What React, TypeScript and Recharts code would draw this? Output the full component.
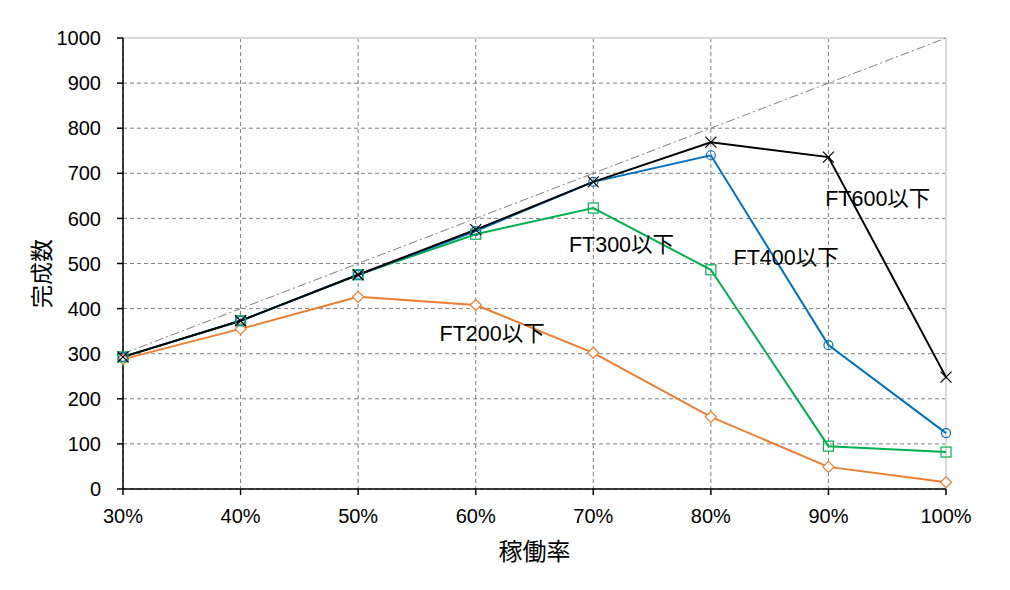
import React from 'react';
import { LineChart, Line, XAxis, YAxis, CartesianGrid, ReferenceLine, ReferenceDot, Label } from 'recharts';

const rates = [30, 40, 50, 60, 70, 80, 90, 100];
const ideal = [300, 400, 500, 600, 700, 800, 900, 1000];
const ft600 = [293, 373, 475, 575, 681, 769, 736, 248];
const ft400 = [293, 373, 475, 572, 681, 740, 319, 124];
const ft300 = [293, 373, 475, 565, 623, 486, 95, 82];
const ft200 = [288, 355, 426, 408, 302, 160, 49, 15];
const yTicks = [0, 100, 200, 300, 400, 500, 600, 700, 800, 900, 1000];
const annotations = [
  { x: 94.2, y: 641, text: 'FT600以下' },
  { x: 72.4, y: 537, text: 'FT300以下' },
  { x: 86.4, y: 510, text: 'FT400以下' },
  { x: 61.4, y: 341, text: 'FT200以下' },
];

const data = rates.map((r, i) => ({
  rate: r,
  ideal: ideal[i],
  ft600: ft600[i],
  ft400: ft400[i],
  ft300: ft300[i],
  ft200: ft200[i],
}));

const FONT = '"Liberation Sans", Arial, "Noto Sans CJK JP", sans-serif';
const CJK = '"Noto Sans CJK JP", sans-serif';

const CrossDot = (p: any) => {
  const { cx, cy } = p;
  if (cx == null || cy == null) return null;
  const s = 5.5;
  return (
    <g key={`c${p.index}`}>
      <line x1={cx - s} y1={cy - s} x2={cx + s} y2={cy + s} stroke="#000" strokeWidth={1.2} />
      <line x1={cx - s} y1={cy + s} x2={cx + s} y2={cy - s} stroke="#000" strokeWidth={1.2} />
    </g>
  );
};
const CircleDot = (p: any) => {
  const { cx, cy } = p;
  if (cx == null || cy == null) return null;
  return <circle key={`o${p.index}`} cx={cx} cy={cy} r={4.5} fill="none" stroke="#0070C0" strokeWidth={1.2} />;
};
const SquareDot = (p: any) => {
  const { cx, cy } = p;
  if (cx == null || cy == null) return null;
  return <rect key={`s${p.index}`} x={cx - 5} y={cy - 5} width={10} height={10} fill="none" stroke="#00B050" strokeWidth={1.2} />;
};
const DiamondDot = (p: any) => {
  const { cx, cy } = p;
  if (cx == null || cy == null) return null;
  const s = 5.5;
  return (
    <path key={`d${p.index}`} d={`M${cx},${cy - s} L${cx + s},${cy} L${cx},${cy + s} L${cx - s},${cy} Z`} fill="#fff" stroke="#ED7D31" strokeWidth={1.2} />
  );
};

export default function App() {
  return (
    <LineChart width={1000} height={580} data={data} margin={{ top: 30, right: 62, left: 0, bottom: 0 }}>
      <CartesianGrid stroke="#7f7f7f" strokeDasharray="4 3" strokeWidth={1} />
      <ReferenceLine y={1000} stroke="#d9d9d9" strokeWidth={2} />
      <ReferenceLine x={100} stroke="#d9d9d9" strokeWidth={2} />
      <XAxis
        dataKey="rate"
        type="number"
        domain={[30, 100]}
        ticks={rates}
        tickFormatter={(v: number) => `${v}%`}
        height={99}
        stroke="#000"
        strokeWidth={1.5}
        tickSize={6}
        tickMargin={14}
        tick={{ fill: '#000', fontSize: 20, fontFamily: FONT }}
      >
        <Label
          content={(props: any) => {
            const vb = props.viewBox;
            return (
              <text x={vb.x + vb.width / 2} y={vb.y + 64} textAnchor="middle" dominantBaseline="middle" fontSize={24} fontFamily={CJK} fill="#000">
                稼働率
              </text>
            );
          }}
        />
      </XAxis>
      <YAxis
        type="number"
        domain={[0, 1000]}
        ticks={yTicks}
        width={115}
        stroke="#000"
        strokeWidth={1.5}
        tickSize={6}
        tickMargin={16}
        tick={{ fill: '#000', fontSize: 20, fontFamily: FONT }}
      >
        <Label
          content={(props: any) => {
            const vb = props.viewBox;
            const x = 36;
            const y = vb.y + vb.height / 2 + 10;
            return (
              <text x={x} y={y} textAnchor="middle" dominantBaseline="middle" fontSize={23} fontFamily={CJK} fill="#000" transform={`rotate(-90 ${x} ${y})`}>
                完成数
              </text>
            );
          }}
        />
      </YAxis>
      <Line dataKey="ideal" stroke="#808080" strokeWidth={1} strokeDasharray="9 3 2 3" dot={false} isAnimationActive={false} />
      <Line dataKey="ft200" stroke="#ED7D31" strokeWidth={2} dot={DiamondDot} activeDot={false} isAnimationActive={false} />
      <Line dataKey="ft300" stroke="#00B050" strokeWidth={2} dot={SquareDot} activeDot={false} isAnimationActive={false} />
      <Line dataKey="ft400" stroke="#0070C0" strokeWidth={2} dot={CircleDot} activeDot={false} isAnimationActive={false} />
      <Line dataKey="ft600" stroke="#000000" strokeWidth={2} dot={CrossDot} activeDot={false} isAnimationActive={false} />
      {annotations.map((a) => (
        <ReferenceDot
          key={a.text}
          x={a.x}
          y={a.y}
          r={0}
          fill="none"
          stroke="none"
          label={(props: any) => {
            const vb = props.viewBox;
            const cx = vb.x + vb.width / 2;
            const cy = vb.y + vb.height / 2;
            return (
              <text x={cx} y={cy} textAnchor="middle" dominantBaseline="middle" fontSize={21.5} fontFamily={FONT} fill="#000">
                {a.text}
              </text>
            );
          }}
        />
      ))}
    </LineChart>
  );
}
